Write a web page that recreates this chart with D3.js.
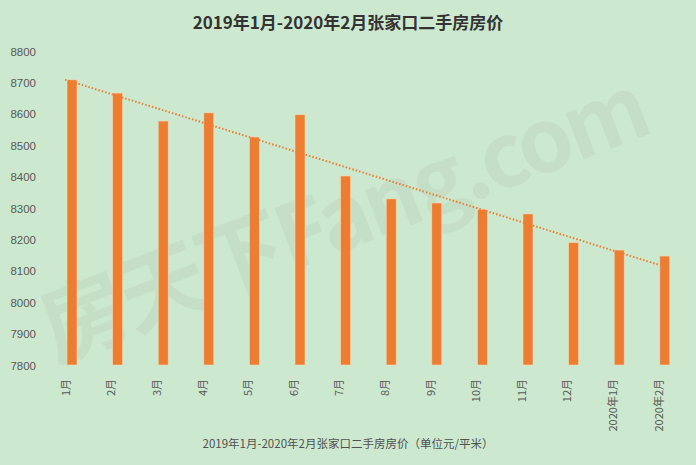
<!DOCTYPE html>
<meta charset="utf-8">
<style>
body { margin: 0; background: #cce8cf; }
.tick text { fill: #595959; font-size: 11.5px; font-family: "Liberation Sans", Arial, sans-serif; }
.xaxis .tick text { font-family: "Noto Sans CJK SC", sans-serif; font-size: 11px; }
.trend { fill: none; stroke: #ed7d31; stroke-width: 2px; stroke-dasharray: 1.5,2; }
</style>
<svg width="696" height="465"></svg>
<script src="https://d3js.org/d3.v7.min.js"></script>
<script>

var months = ["1月","2月","3月","4月","5月","6月","7月","8月","9月","10月","11月","12月","2020年1月","2020年2月"];
var prices = [8708, 8666, 8577, 8603, 8526, 8597, 8402, 8329, 8316, 8295, 8281, 8190, 8166, 8147];
var yTicks = [7800, 7900, 8000, 8100, 8200, 8300, 8400, 8500, 8600, 8700, 8800];

var svg = d3.select("svg"),
    width = +svg.attr("width"),
    height = +svg.attr("height");

svg.append("rect").attr("width", width).attr("height", height).attr("fill", "#cce8cf");

var x = d3.scaleBand().domain(months).range([43.2, 681.6]);
var y = d3.scaleLinear().domain([7800, 8800]).range([365, 51]);

// y axis labels only, no line
var yAxis = svg.append("g")
    .attr("transform", "translate(36,0)")
    .call(d3.axisLeft(y).tickValues(yTicks).tickFormat(d3.format("d")).tickSize(0).tickPadding(0));
yAxis.select(".domain").remove();
yAxis.selectAll("text").attr("dy", "0.35em");

// watermark (under the bars' colour, very faint)
svg.append("text")
    .attr("transform", "translate(55,362) rotate(-21)")
    .attr("font-family", "Noto Sans CJK SC, sans-serif")
    .attr("font-weight", "bold")
    .attr("font-size", 88)
    .attr("letter-spacing", -4)
    .attr("fill", "#707070")
    .attr("opacity", 0.07)
    .text("房天下Fang.com");

// bars
svg.selectAll(".bar")
  .data(prices)
  .enter().append("rect")
    .attr("class", "bar")
    .attr("x", function(d, i) { return x(months[i]) + x.bandwidth() / 2 + 1; })
    .attr("width", 10)
    .attr("y", function(d) { return y(d); })
    .attr("height", function(d) { return y(7800) - y(d); })
    .attr("fill", "#ed7d31")
    .attr("stroke", "#f6d9b8")
    .attr("stroke-width", 0.6);

// linear trendline (least squares)
var n = prices.length;
var mx = (n + 1) / 2, my = d3.mean(prices);
var sxy = 0, sxx = 0;
prices.forEach(function(v, i) { sxy += (i + 1 - mx) * (v - my); sxx += (i + 1 - mx) * (i + 1 - mx); });
var slope = sxy / sxx;
var trend = [0, n - 1].map(function(i) { return [i, my + slope * (i + 1 - mx)]; });
svg.append("path")
    .attr("class", "trend")
    .attr("d", d3.line()
      .x(function(d) { return x(months[d[0]]) + x.bandwidth() / 2 - 1; })
      .y(function(d) { return y(d[1]); })(trend));

// x axis labels, rotated
var xAxis = svg.append("g")
    .attr("class", "xaxis")
    .attr("transform", "translate(0,365)")
    .call(d3.axisBottom(x).tickSize(0).tickPadding(0));
xAxis.select(".domain").remove();
xAxis.selectAll("text")
    .attr("transform", "rotate(-90)")
    .attr("x", -14)
    .attr("y", 0)
    .attr("dy", "0.35em")
    .style("text-anchor", "end");

// title
svg.append("text")
    .attr("x", width / 2)
    .attr("y", 29)
    .attr("text-anchor", "middle")
    .attr("font-family", "Noto Sans CJK SC, sans-serif")
    .attr("font-weight", "bold")
    .attr("font-size", 17)
    .attr("fill", "#333")
    .text("2019年1月-2020年2月张家口二手房房价");

// axis title
svg.append("text")
    .attr("x", width / 2)
    .attr("y", 448)
    .attr("text-anchor", "middle")
    .attr("font-family", "Noto Sans CJK SC, sans-serif")
    .attr("font-size", 11.5)
    .attr("fill", "#505050")
    .text("2019年1月-2020年2月张家口二手房房价（单位元/平米）");

</script>
